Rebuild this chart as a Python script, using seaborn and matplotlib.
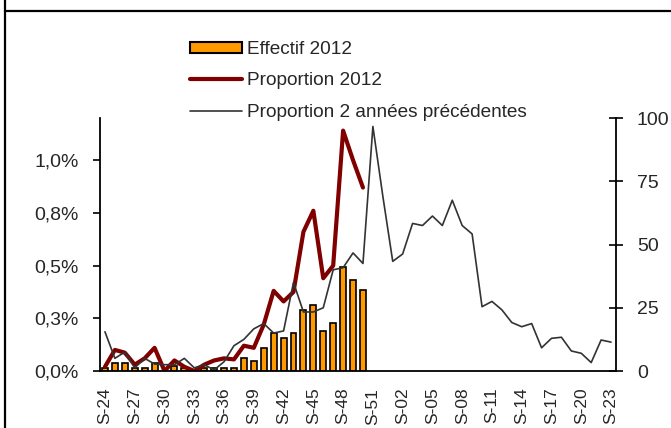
import numpy as np
import pandas as pd
import seaborn as sns
import matplotlib.pyplot as plt
from matplotlib.patches import Patch
from matplotlib.lines import Line2D

# Weekly data, S-24 (2012) to S-23 (following year)
weeks = ["S-%02d" % w for w in list(range(24, 53)) + list(range(1, 24))]
effectif_2012 = [1, 3, 3, 1, 1, 3, 0, 2, 1, 0, 1, 1, 1, 1, 5, 4, 9, 15, 13, 15,
                 24, 26, 16, 19, 41, 36, 32]
proportion_2012 = [0.02, 0.10, 0.087, 0.03, 0.06, 0.11, 0.0, 0.05, 0.02, 0.0,
                   0.03, 0.05, 0.06, 0.055, 0.12, 0.11, 0.22, 0.38, 0.33, 0.375,
                   0.66, 0.76, 0.44, 0.50, 1.14, 1.0, 0.87]
proportion_prev = [0.186, 0.06, 0.09, 0.015, 0.06, 0.033, 0.03, 0.03, 0.06, 0.015,
                   0.03, 0.005, 0.044, 0.12, 0.15, 0.20, 0.225, 0.18, 0.19, 0.42,
                   0.28, 0.28, 0.30, 0.48, 0.49, 0.56, 0.51, 1.16, 0.83, 0.52,
                   0.555, 0.70, 0.69, 0.735, 0.69, 0.81, 0.69, 0.65, 0.305, 0.33,
                   0.29, 0.23, 0.21, 0.225, 0.11, 0.155, 0.16, 0.095, 0.084, 0.04,
                   0.147, 0.137]
left_ticks = [0, 0.25, 0.5, 0.75, 1.0]
left_labels = ["0,0%", "0,3%", "0,5%", "0,8%", "1,0%"]
right_ticks = [0, 25, 50, 75, 100]

sns.set_style("white")
plt.rcParams['font.family'] = ['Liberation Sans', 'DejaVu Sans']
plt.rcParams['font.size'] = 14

fig = plt.figure(figsize=(6.71, 4.28), dpi=100)
ax = fig.add_axes([100 / 671, 1 - 371 / 428, 516 / 671, 253 / 428])
ax2 = ax.twinx()

# bars on right axis
bars_df = pd.DataFrame({"week": weeks[:len(effectif_2012)], "n": effectif_2012})
sns.barplot(data=bars_df, x="week", y="n", order=weeks, color="#FF9900",
            edgecolor="black", linewidth=1.2, width=0.6, saturation=1, ax=ax2)

# lines on left axis
pos = np.arange(len(weeks))
sns.lineplot(x=pos[:len(proportion_2012)], y=proportion_2012, color="#800000",
             lw=3, ax=ax)
sns.lineplot(x=pos, y=proportion_prev, color="#333333", lw=1.2, ax=ax)

ax.set_zorder(ax2.get_zorder() + 1)
ax.patch.set_visible(False)

ax.set_xlim(-0.5, len(weeks) - 0.5)
ax.set_ylim(0, 1.2)
ax2.set_ylim(0, 100)
ax.set_yticks(left_ticks)
ax.set_yticklabels(left_labels, fontsize=14)
ax2.set_yticks(right_ticks)
ax2.set_yticklabels([str(t) for t in right_ticks], fontsize=14)
ax.set_xticks(pos[::3])
ax.set_xticklabels(weeks[::3], rotation=90, fontsize=12.5)
ax.set_xticks(np.arange(-0.5, len(weeks)), minor=True)
ax.tick_params(axis="x", which="major", length=0, pad=12)
ax.tick_params(axis="x", which="minor", length=5, width=1, direction="out", color="black")
ax.tick_params(axis="y", length=5, width=1.2, direction="out", color="black", left=True, pad=10.5)
ax2.tick_params(axis="y", length=10, width=1.2, direction="inout", color="black", right=True, pad=10)
ax2.tick_params(axis="x", length=0)
ax.set_xlabel("")
ax.set_ylabel("")
ax2.set_xlabel("")
ax2.set_ylabel("")

for a in (ax, ax2):
    a.spines["top"].set_visible(False)
    for s in ("left", "right", "bottom"):
        a.spines[s].set_color("black")
        a.spines[s].set_linewidth(1.3)
ax2.spines["left"].set_visible(False)
ax.spines["right"].set_visible(False)
ax2.spines["bottom"].set_visible(False)

handles = [Patch(facecolor="#FF9900", edgecolor="black", linewidth=1.5),
           Line2D([], [], color="#800000", lw=3),
           Line2D([], [], color="#333333", lw=1.2)]
labels = ["Effectif 2012", "Proportion 2012", "Proportion 2 années précédentes"]
fig.legend(handles, labels, loc="upper left", bbox_to_anchor=(173 / 671, 1 - 24 / 428),
           frameon=False, handlelength=2.7, handleheight=0.5, labelspacing=0.75,
           handletextpad=0.28, fontsize=13.7)

# frame lines of the surrounding cell
fig.add_artist(Line2D([5 / 671, 5 / 671], [0, 1], color="black", lw=1.6))
fig.add_artist(Line2D([5 / 671, 1], [1 - 11 / 428, 1 - 11 / 428], color="black", lw=1.6))

fig.savefig("out.png", dpi=100)
